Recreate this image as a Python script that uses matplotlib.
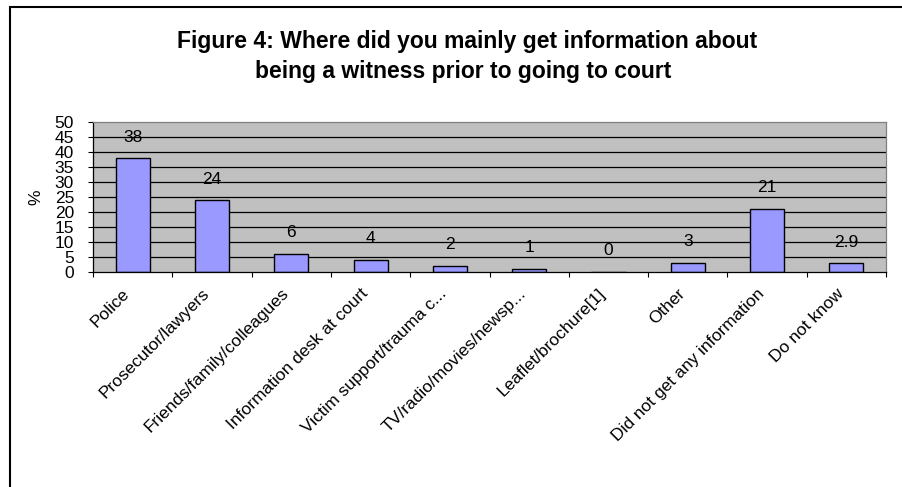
import matplotlib.pyplot as plt
import numpy as np
from matplotlib.patches import Rectangle

plt.rcParams['font.family'] = 'Liberation Sans'

categories = ["Police", "Prosecutor/lawyers", "Friends/family/colleagues",
              "Information desk at court", "Victim support/trauma c...",
              "TV/radio/movies/newsp...", "Leaflet/brochure[1]", "Other",
              "Did not get any information", "Do not know"]
values = [38, 24, 6, 4, 2, 1, 0, 3, 21, 2.9]
value_labels = ["38", "24", "6", "4", "2", "1", "0", "3", "21", "2.9"]
yticks = np.arange(0, 55, 5)

fig = plt.figure(figsize=(9.02, 4.87), dpi=100)
ax = fig.add_axes([0.1031, 0.4421, 0.8792, 0.3074])

x = np.arange(len(categories))
ax.bar(x, values, width=0.43, color='#9999FF', edgecolor='black',
       linewidth=1.0, zorder=2)

for xi, v, lab in zip(x, values, value_labels):
    ax.annotate(lab, (xi, v), xytext=(0, 15), textcoords='offset points',
                ha='center', va='center', fontsize=12.5)

ax.set_facecolor('#C0C0C0')
ax.set_xlim(-0.5, len(categories) - 0.5)
ax.set_ylim(0, 50)
ax.set_yticks(yticks)
ax.tick_params(axis='y', direction='out', length=3.6, width=0.8,
               pad=10, labelsize=12.5)

# category labels at the centres, tick marks at the boundaries
ax.set_xticks(x)
ax.set_xticklabels(categories, rotation=45, ha='right', va='top',
                   fontsize=12.5)
ax.tick_params(axis='x', which='major', length=0, pad=10)
ax.set_xticks(np.arange(-0.5, len(categories)), minor=True)
ax.tick_params(axis='x', which='minor', direction='out', length=3.6,
               width=0.8)

for y in yticks[1:-1]:
    ax.axhline(y, color='black', linewidth=0.9, zorder=1)

ax.spines['left'].set_color('black')
ax.spines['bottom'].set_color('black')
ax.spines['top'].set_color('#808080')
ax.spines['right'].set_color('#808080')
for s in ax.spines.values():
    s.set_linewidth(0.9)

ax.set_ylabel('%', fontsize=12.5, labelpad=8)

fig.text(0.518, 1 - 48 / 487, "Figure 4: Where did you mainly get information about",
         ha='center', va='baseline', fontsize=16.5, fontweight='bold')
fig.text(0.514, 1 - 78 / 487, "being a witness prior to going to court",
         ha='center', va='baseline', fontsize=16.5, fontweight='bold')

fig.patches.append(Rectangle((10 / 902, -0.1), 1.2, 1.1 - 6.5 / 487,
                             transform=fig.transFigure, fill=False,
                             edgecolor='black', linewidth=1.5))

fig.savefig('out.png', dpi=100)
